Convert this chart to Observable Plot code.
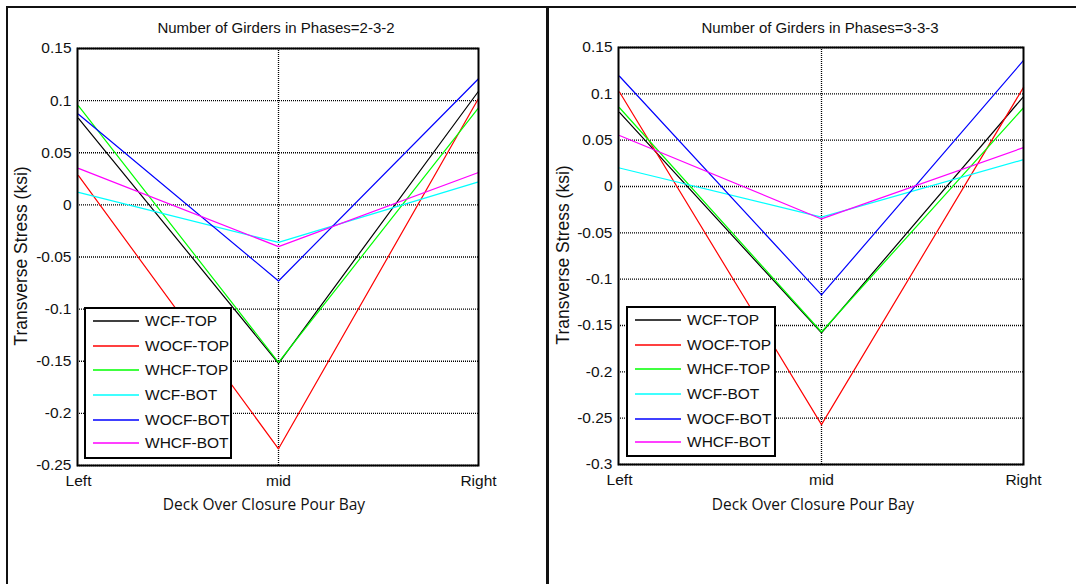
<!DOCTYPE html>
<html>
<head>
<meta charset="utf-8">
<script src="https://cdn.jsdelivr.net/npm/d3@7"></script>
<script src="https://cdn.jsdelivr.net/npm/@observablehq/plot@0.6"></script>
<style>
  html, body { margin: 0; padding: 0; background: #fff; }
  body { width: 1076px; height: 584px; position: relative; overflow: hidden; font-family: "Liberation Sans", Arial, sans-serif; }
  .abs { position: absolute; }
  .title { font-size: 15px; color: #111; white-space: nowrap; transform: translateX(-50%); }
  .ylab { font-size: 17.5px; color: #111; white-space: nowrap; transform: translate(-50%, -50%) rotate(-90deg); }
  .xlab { font-family: "Open Sans", "Noto Sans", sans-serif; font-size: 15.5px; color: #111; white-space: nowrap; transform: translateX(-50%); }
  .legend { background: #fff; border: 2px solid #000; box-sizing: border-box; }
  .legend svg { position: absolute; left: 0; top: 0; }
  .legend .lb { position: absolute; left: 59px; font-size: 15.5px; color: #111; line-height: 18px; }
</style>
</head>
<body>
<script>
// ---- data ----
const positions = ["Left", "mid", "Right"];
const seriesNames = ["WCF-TOP", "WOCF-TOP", "WHCF-TOP", "WCF-BOT", "WOCF-BOT", "WHCF-BOT"];
const seriesColors = ["#000000", "#ff0000", "#00ff00", "#00ffff", "#0000ff", "#ff00ff"];

// Phases = 2-3-2 (values at Left, mid, Right)
const wcfTop232  = [0.083, -0.152, 0.109];
const wocfTop232 = [0.028, -0.234, 0.102];
const whcfTop232 = [0.095, -0.151, 0.093];
const wcfBot232  = [0.012, -0.036, 0.022];
const wocfBot232 = [0.087, -0.073, 0.121];
const whcfBot232 = [0.035, -0.040, 0.031];

// Phases = 3-3-3
const wcfTop333  = [0.080, -0.158, 0.097];
const wocfTop333 = [0.102, -0.257, 0.107];
const whcfTop333 = [0.085, -0.157, 0.085];
const wcfBot333  = [0.020, -0.033, 0.029];
const wocfBot333 = [0.119, -0.117, 0.136];
const whcfBot333 = [0.055, -0.035, 0.042];

const yTicks232 = [0.15, 0.1, 0.05, 0, -0.05, -0.1, -0.15, -0.2, -0.25];
const yTicks333 = [0.15, 0.1, 0.05, 0, -0.05, -0.1, -0.15, -0.2, -0.25, -0.3];

const titles = ["Number of Girders in Phases=2-3-2", "Number of Girders in Phases=3-3-3"];
const yLabel = "Transverse Stress (ksi)";
const xLabel = "Deck Over Closure Pour Bay";

function rows(arrays) {
  const out = [];
  arrays.forEach((arr, i) => arr.forEach((v, j) => out.push({pos: positions[j], value: v, series: seriesNames[i]})));
  return out;
}
const data232 = rows([wcfTop232, wocfTop232, whcfTop232, wcfBot232, wocfBot232, whcfBot232]);
const data333 = rows([wcfTop333, wocfTop333, whcfTop333, wcfBot333, wocfBot333, whcfBot333]);

const fmt = d => String(+d.toFixed(2));

function makePlot(data, ticks, domain, w, m) {
  return Plot.plot({
    width: w, height: 584,
    marginLeft: m.l, marginRight: m.r, marginTop: m.t, marginBottom: m.b,
    style: {fontFamily: "Liberation Sans, Arial, sans-serif", fontSize: "15px", color: "#111", background: "transparent", overflow: "visible"},
    x: {type: "point", domain: positions, padding: 0},
    y: {domain: domain},
    color: {domain: seriesNames, range: seriesColors},
    marks: [
      Plot.gridY(ticks, {stroke: "#000", strokeOpacity: 1, strokeDasharray: "1,1", strokeWidth: 1.3}),
      Plot.ruleX(["mid"], {stroke: "#000", strokeOpacity: 1, strokeDasharray: "1,1", strokeWidth: 1.3}),
      Plot.axisY(ticks, {tickSize: 0, tickPadding: 6, tickFormat: fmt, label: null, fontSize: 15.5}),
      Plot.axisX({tickSize: 0, tickPadding: 9, label: null, fontSize: 15.5}),
      Plot.line(data, {x: "pos", y: "value", z: "series", stroke: "series", strokeWidth: 1.2}),
      Plot.frame({stroke: "#000", strokeWidth: 2})
    ]
  });
}

function addDiv(cls, left, top, text) {
  const d = document.createElement("div");
  d.className = "abs " + cls;
  d.style.left = left + "px";
  d.style.top = top + "px";
  if (text != null) d.textContent = text;
  document.body.appendChild(d);
  return d;
}

function addLegend(left, top, w, h) {
  const lg = addDiv("legend", left, top);
  lg.style.width = w + "px";
  lg.style.height = h + "px";
  const rowCenters = [12, 37, 61, 86, 111, 134];
  const NS = "http://www.w3.org/2000/svg";
  const svg = document.createElementNS(NS, "svg");
  svg.setAttribute("width", w - 4);
  svg.setAttribute("height", h - 4);
  seriesNames.forEach((s, i) => {
    const ln = document.createElementNS(NS, "line");
    ln.setAttribute("x1", 7); ln.setAttribute("x2", 53);
    ln.setAttribute("y1", rowCenters[i]); ln.setAttribute("y2", rowCenters[i]);
    ln.setAttribute("stroke", seriesColors[i]);
    ln.setAttribute("stroke-width", 1.3);
    svg.appendChild(ln);
    const lb = document.createElement("div");
    lb.className = "lb";
    lb.style.top = (rowCenters[i] - 9) + "px";
    lb.textContent = s;
    lg.appendChild(lb);
  });
  lg.appendChild(svg);
}

// left panel
const p1 = makePlot(data232, yTicks232, [-0.25, 0.15], 540, {l: 77, r: 62, t: 48, b: 119});
p1.style.position = "absolute"; p1.style.left = "0px"; p1.style.top = "0px";
document.body.appendChild(p1);

// right panel
const p2 = makePlot(data333, yTicks333, [-0.3, 0.15], 536, {l: 78, r: 53, t: 47, b: 120});
p2.style.position = "absolute"; p2.style.left = "540px"; p2.style.top = "0px";
document.body.appendChild(p2);

// titles and axis labels
addDiv("title", 276, 19, titles[0]);
addDiv("title", 820, 19, titles[1]);
addDiv("ylab", 21, 256, yLabel);
addDiv("ylab", 563, 255, yLabel);
addDiv("xlab", 264, 493, xLabel);
addDiv("xlab", 813, 493, xLabel);

// legends
addLegend(84, 307, 148, 152);
addLegend(626, 306, 150, 151);

// panel borders
const b1 = addDiv("", 6, 6); b1.style.width = "2px"; b1.style.height = "578px"; b1.style.background = "#111";
const b2 = addDiv("", 6, 6); b2.style.width = "1070px"; b2.style.height = "2px"; b2.style.background = "#111";
const b3 = addDiv("", 546, 6); b3.style.width = "3px"; b3.style.height = "578px"; b3.style.background = "#111";
</script>
</body>
</html>
